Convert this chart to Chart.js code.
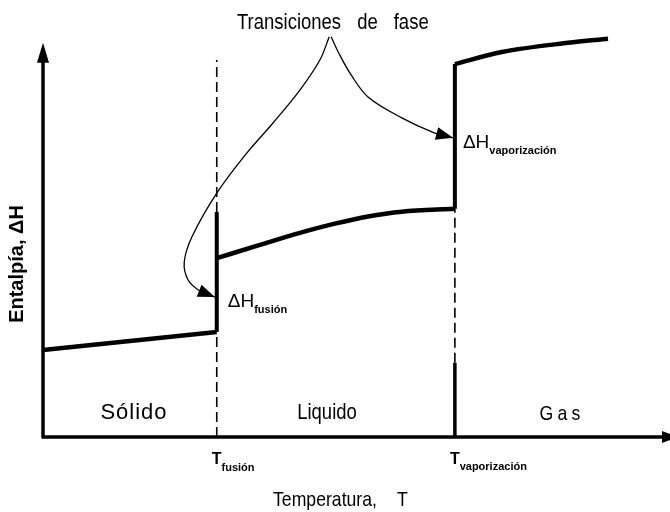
<!DOCTYPE html>
<html lang="es">
<head>
<meta charset="UTF-8">
<title>Entalpía frente a temperatura</title>
<script src="https://cdn.jsdelivr.net/npm/chart.js"></script>
<style>
  html, body { margin: 0; padding: 0; background: #fff; }
  #wrap { width: 670px; height: 512px; }
</style>
</head>
<body>
<div id="wrap"><canvas id="grafico" width="670" height="512"></canvas></div>
<script>
// temperaturas de transición (escala arbitraria 0-100)
const tFusion = 27.8;
const tVapor = 65.9;

// entalpía de cada fase
const solidoT = [0, 27.8];
const solidoH = [21.7, 26.2];
const liquidoT = [27.8, 34.7, 41.1, 46.7, 52.0, 57.4, 65.9];
const liquidoH = [44.6, 47.9, 50.9, 53.2, 55.0, 56.2, 56.9];
const gasT = [65.9, 73.4, 84.0, 90.4];
const gasH = [93.0, 96.0, 98.3, 99.3];

// saltos de entalpía en las transiciones
const saltoFusionH = [26.2, 56.1];
const saltoVaporH = [56.9, 93.0];

// líneas guía verticales
const guiaFusionH = [0, 94.0];
const guiaVaporH = [18.5, 56.9];   // tramo discontinuo
const baseVaporH = [0, 18.5];      // tramo continuo

// flechas de "Transiciones de fase"
const flechaFusionT = [45.8, 44.3, 41.1, 36.8, 32.6, 27.8, 23.8, 22.6, 23.2, 25.1, 27.5];
const flechaFusionH = [99.8, 94.0, 86.5, 78.3, 70.8, 60.8, 49.8, 43.6, 39.2, 36.4, 34.9];
const flechaVaporT = [46.1, 47.4, 49.3, 52.0, 57.4, 62.7, 65.6];
const flechaVaporH = [99.8, 95.5, 90.3, 84.8, 79.6, 75.8, 74.6];

// textos
const titulo = 'Transiciones de fase';
const ejeY = 'Entalpía, ΔH';
const ejeX = 'Temperatura,';
const fases = ['Sólido', 'Liquido', 'Gas'];

const SANS = '"Liberation Sans", Arial, sans-serif';
const ANGOSTO = 0.84;   // no hay Arial Narrow: se comprime en horizontal

function puntos(xs, ys) {
    return xs.map((x, i) => ({ x: x, y: ys[i] }));
}

function serie(data, ancho, extra) {
    return Object.assign({
        data: data,
        borderColor: '#000',
        borderWidth: ancho,
        pointRadius: 0,
        tension: 0,
        fill: false,
        clip: false
    }, extra || {});
}

// punta de flecha rellena
function punta(ctx, x, y, dx, dy, largo, medio) {
    const len = Math.hypot(dx, dy) || 1;
    const ux = dx / len, uy = dy / len;
    ctx.beginPath();
    ctx.moveTo(x, y);
    ctx.lineTo(x - ux * largo - uy * medio, y - uy * largo + ux * medio);
    ctx.lineTo(x - ux * largo + uy * medio, y - uy * largo - ux * medio);
    ctx.closePath();
    ctx.fill();
}

// texto estrecho
function angosto(ctx, str, x, y, size, align) {
    ctx.save();
    ctx.translate(x, y);
    ctx.scale(ANGOSTO, 1);
    ctx.font = size + 'px ' + SANS;
    ctx.textAlign = align;
    ctx.fillText(str, 0, 0);
    ctx.restore();
}

// texto con subíndice (ΔH_fusión, T_vaporización)
function conSub(ctx, base, sub, x, y, fBase, fSub, bajada) {
    ctx.textAlign = 'left';
    ctx.font = fBase;
    ctx.fillText(base, x, y);
    const w = ctx.measureText(base).width;
    ctx.font = fSub;
    ctx.fillText(sub, x + w, y + bajada);
}

const dibujoFases = {
    id: 'dibujoFases',
    afterDatasetsDraw(chart) {
        const ctx = chart.ctx;
        const sx = chart.scales.x, sy = chart.scales.y;
        const x0 = sx.getPixelForValue(0), y0 = sy.getPixelForValue(0);
        const xf = sx.getPixelForValue(tFusion), xv = sx.getPixelForValue(tVapor);

        ctx.save();
        ctx.fillStyle = '#000';
        ctx.strokeStyle = '#000';

        // ejes con flecha
        ctx.lineWidth = 3.5;
        ctx.beginPath();
        ctx.moveTo(x0, y0);
        ctx.lineTo(x0, sy.getPixelForValue(96));
        ctx.moveTo(x0 - 1.5, y0);
        ctx.lineTo(664, y0);
        ctx.stroke();
        punta(ctx, x0, sy.getPixelForValue(98.3), 0, -1, 20, 6);
        punta(ctx, 678, y0, 1, 0, 16, 6);

        // puntas de las flechas de anotación
        [2, 3].forEach(function (i) {
            const pts = chart.getDatasetMeta(i).data;
            const p = pts[pts.length - 1];
            const q = pts[pts.length - 2];
            const cx = (p.cp1x !== undefined) ? p.cp1x : q.x;
            const cy = (p.cp1y !== undefined) ? p.cp1y : q.y;
            punta(ctx, p.x, p.y, p.x - cx, p.y - cy, 17, 6.5);
        });

        ctx.textBaseline = 'alphabetic';

        // título
        ctx.wordSpacing = '13px';
        angosto(ctx, titulo, 237, 29, 22, 'left');
        ctx.wordSpacing = '0px';

        // ΔH de cada transición
        conSub(ctx, 'ΔH', 'fusión', xf + 11, 307, '19px ' + SANS, 'bold 11px ' + SANS, 6);
        conSub(ctx, 'ΔH', 'vaporización', xv + 8, 148, '19px ' + SANS, 'bold 11px ' + SANS, 6);

        // nombres de las fases
        ctx.textAlign = 'center';
        ctx.font = '22px ' + SANS;
        ctx.letterSpacing = '1px';
        ctx.fillText(fases[0], 134, 419);
        ctx.letterSpacing = '0px';
        angosto(ctx, fases[1], 327, 419, 22, 'center');
        ctx.letterSpacing = '5px';
        angosto(ctx, fases[2], 562, 420, 21, 'center');
        ctx.letterSpacing = '0px';

        // temperaturas de transición
        conSub(ctx, 'T', 'fusión', xf - 5, 464, 'bold 16px ' + SANS, 'bold 11px ' + SANS, 7);
        conSub(ctx, 'T', 'vaporización', xv - 5, 464, 'bold 16px ' + SANS, 'bold 11px ' + SANS, 6);

        // título eje x
        angosto(ctx, ejeX, 273, 506, 21, 'left');
        angosto(ctx, 'T', 397, 506, 21, 'left');

        // título eje y
        ctx.translate(17, 264);
        ctx.rotate(-Math.PI / 2);
        ctx.textAlign = 'center';
        ctx.textBaseline = 'middle';
        ctx.font = 'bold 20px ' + SANS;
        ctx.fillText(ejeY, 0, 0);

        ctx.restore();
    }
};

new Chart(document.getElementById('grafico'), {
    type: 'line',
    data: {
        datasets: [
            serie(puntos([tFusion, tFusion], guiaFusionH), 1.6, { borderDash: [10, 5] }),
            serie(puntos([tVapor, tVapor], guiaVaporH), 1.6, { borderDash: [10, 5] }),
            serie(puntos(flechaFusionT, flechaFusionH), 1.3, { tension: 0.35 }),
            serie(puntos(flechaVaporT, flechaVaporH), 1.3, { tension: 0.35 }),
            serie(puntos([tVapor, tVapor], baseVaporH), 3.5),
            serie(puntos(solidoT, solidoH), 4.5),
            serie(puntos([tFusion, tFusion], saltoFusionH), 4),
            serie(puntos(liquidoT, liquidoH), 4.5, { cubicInterpolationMode: 'monotone' }),
            serie(puntos([tVapor, tVapor], saltoVaporH), 4),
            serie(puntos(gasT, gasH), 4.5, { cubicInterpolationMode: 'monotone' })
        ]
    },
    options: {
        responsive: false,
        animation: false,
        layout: { padding: { left: 43, right: 2, top: 36, bottom: 75 } },
        scales: {
            x: { type: 'linear', min: 0, max: 100, display: false },
            y: { type: 'linear', min: 0, max: 100, display: false }
        },
        plugins: {
            legend: { display: false },
            tooltip: { enabled: false }
        }
    },
    plugins: [dibujoFases]
});
</script>
</body>
</html>
